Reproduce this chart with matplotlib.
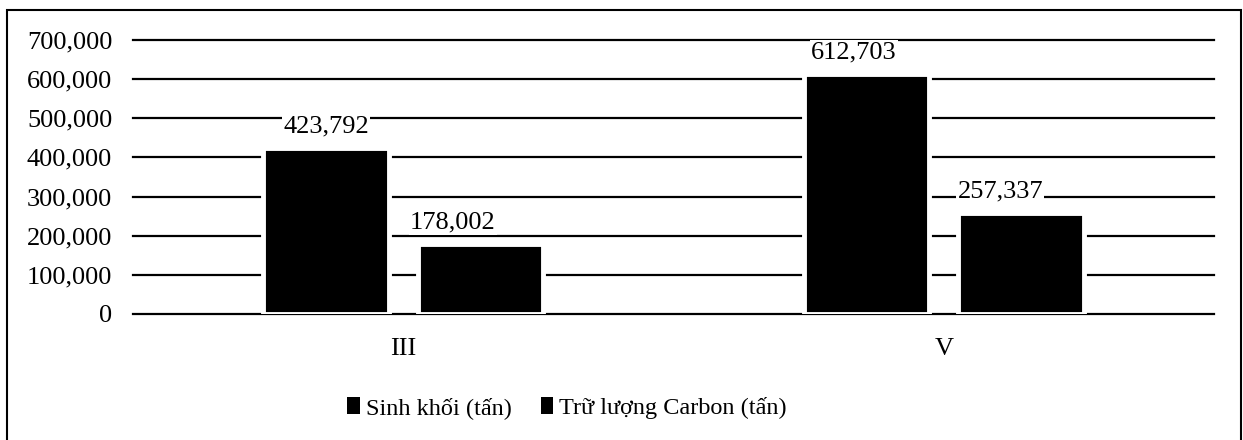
import numpy as np
import matplotlib
matplotlib.use("Agg")
import matplotlib.pyplot as plt
from matplotlib.patches import Rectangle, Patch

categories = ["III", "V"]
sinh_khoi = [423792, 612703]
carbon = [178002, 257337]
series_names = ["Sinh khối (tấn)", "Trữ lượng Carbon (tấn)"]
y_ticks = [0, 100000, 200000, 300000, 400000, 500000, 600000, 700000]

plt.rcParams['font.family'] = ['Liberation Serif', 'DejaVu Serif']

fig = plt.figure(figsize=(12.43, 4.40), dpi=100)
ax = fig.add_axes([133/1243, 1-314/440, (1214-133)/1243, (314-40)/440])

x = np.arange(len(categories))
w = 0.232
off = 0.143
b1 = ax.bar(x - off, sinh_khoi, w, color='black', edgecolor='white', linewidth=3.5, zorder=3)
b2 = ax.bar(x + off, carbon, w, color='black', edgecolor='white', linewidth=3.5, zorder=3)

fmt = lambda v: f"{v:,.0f}"
for bars, dx in ((b1, [0, -9]), (b2, [-20, -15])):
    labs = ax.bar_label(bars, labels=[fmt(v) for v in bars.datavalues], padding=8, fontsize=19, zorder=4)
    for t, d in zip(labs, dx):
        t.set_bbox(dict(facecolor='white', edgecolor='none', pad=1))
        t.xyann = (d, 8)

ax.set_xlim(-0.5, 1.5)
ax.set_ylim(0, 700000)
ax.set_yticks(y_ticks)
ax.set_yticklabels([fmt(v) for v in y_ticks], fontsize=19)
ax.set_xticks(x)
ax.set_xticklabels(categories, fontsize=19)
ax.tick_params(axis='y', length=0, pad=15)
ax.tick_params(axis='x', length=0, pad=17)
ax.grid(axis='y', color='black', linewidth=1.6, zorder=0)
for g in ax.get_ygridlines():
    g.set_clip_on(False)
for s in ax.spines.values():
    s.set_visible(False)
ax.set_axisbelow(True)

handles = [Patch(facecolor='black', edgecolor='none'), Patch(facecolor='black', edgecolor='none')]
fig.legend(handles=handles, labels=series_names, loc='center', bbox_to_anchor=(567/1243, 1-408/440),
           ncol=2, frameon=False, fontsize=17.5, handlelength=0.5, handleheight=0.7,
           handletextpad=0.25, columnspacing=1.2)

fig.patches.append(Rectangle((7/1243, -0.05), (1241-7)/1243, 1.05-10/440, transform=fig.transFigure,
                             fill=False, edgecolor='black', linewidth=1.5))

fig.savefig("out.png", dpi=100)
